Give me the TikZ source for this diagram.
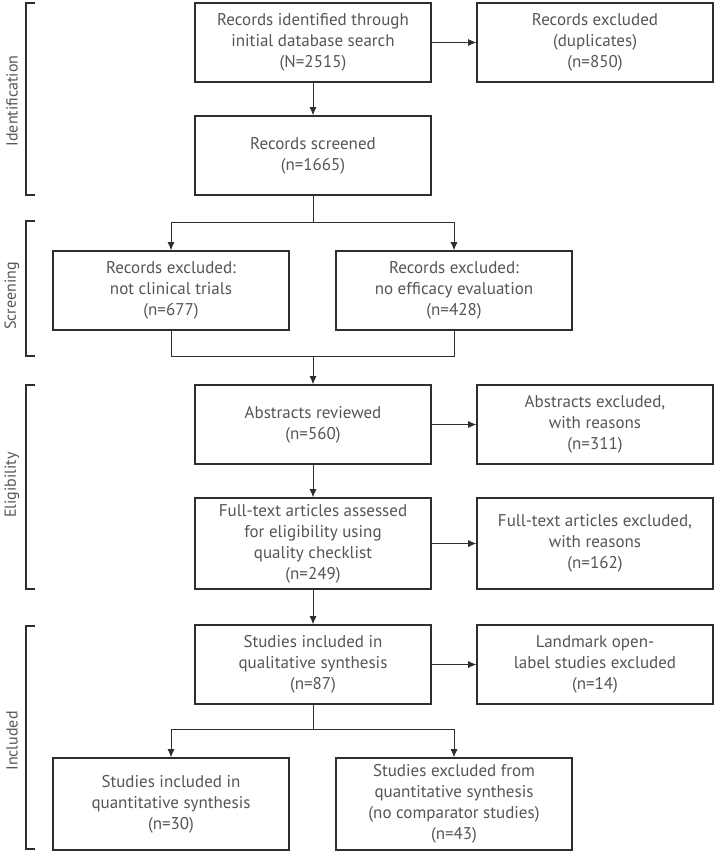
\documentclass[tikz,border=0pt]{standalone}
\usepackage{fontspec}
\setmainfont{PT Sans}
\usepackage{tikz}
\usetikzlibrary{arrows.meta}
\definecolor{txtgray}{HTML}{555555}
\definecolor{linegray}{HTML}{2E2E2E}

\begin{document}
\begin{tikzpicture}[x=1pt,y=-1pt,
	box/.style={draw=linegray,line width=1.6pt,minimum width=236pt,minimum height=79pt,
		align=center,text=txtgray,font=\fontsize{17}{21}\selectfont,inner sep=0pt},
	tallbox/.style={box,minimum height=91pt},
	conn/.style={draw=linegray,line width=0.8pt},
	arr/.style={conn,-{Latex[length=8pt,width=7pt]}},
	phase/.style={draw=linegray,line width=1.4pt},
	phaselabel/.style={rotate=90,text=txtgray,font=\fontsize{16}{20}\selectfont}]
	\useasboundingbox (0,0) rectangle (715,853);

	\def\bl{26}
	\def\br{35}

	\node[box] (ident) at (313,42.5) {Records identified through\\initial database search\\(N=2515)};
	\node[box] (dup) at (595,42.5) {Records excluded\\(duplicates)\\(n=850)};
	\node[box] (screen) at (313,155.5) {Records screened\\(n=1665)};
	\node[box] (notclin) at (171,290.5) {Records excluded:\\not clinical trials\\(n=677)};
	\node[box] (noeff) at (454,290.5) {Records excluded:\\no efficacy evaluation\\(n=428)};
	\node[box] (abst) at (313,424.5) {Abstracts reviewed\\(n=560)};
	\node[box] (abstex) at (595,424.5) {Abstracts excluded,\\with reasons\\(n=311)};
	\node[tallbox] (full) at (313,543.5) {Full-text articles assessed\\for eligibility using\\quality checklist\\(n=249)};
	\node[tallbox] (fullex) at (595,543.5) {Full-text articles excluded,\\with reasons\\(n=162)};
	\node[box] (qual) at (313,664.5) {Studies included in\\qualitative synthesis\\(n=87)};
	\node[box] (land) at (595,664.5) {Landmark open-\\label studies excluded\\(n=14)};
	\node[tallbox,minimum height=92pt] (quant) at (171,804) {Studies included in\\quantitative synthesis\\(n=30)};
	\node[tallbox,minimum height=92pt] (excl) at (454,804) {Studies excluded from\\quantitative synthesis\\(no comparator studies)\\(n=43)};

	\coordinate (split1) at (313,222);
	\coordinate (merge1) at (313,356);
	\coordinate (split2) at (313,729);

	\draw[arr] (ident) -- (dup);
	\draw[arr] (ident) -- (screen);
	\draw[conn] (screen.south) -- (split1);
	\draw[arr] (split1) -| (notclin.north);
	\draw[arr] (split1) -| (noeff.north);
	\draw[conn] (notclin.south) |- (merge1);
	\draw[conn] (noeff.south) |- (merge1);
	\draw[arr] (merge1) -- (abst.north);
	\draw[arr] (abst) -- (abstex);
	\draw[arr] (abst) -- (full);
	\draw[arr] (full) -- (fullex);
	\draw[arr] (full) -- (qual);
	\draw[arr] (qual) -- (land);
	\draw[conn] (qual.south) -- (split2);
	\draw[arr] (split2) -| (quant.north);
	\draw[arr] (split2) -| (excl.north);

	\draw[phase] (\br,3) -- (\bl,3) -- (\bl,195) -- (\br,195);
	\draw (12,101) node[phaselabel] {Identification};
	\draw[phase] (\br,221) -- (\bl,221) -- (\bl,356) -- (\br,356);
	\draw (12,296) node[phaselabel] {Screening};
	\draw[phase] (\br,385) -- (\bl,385) -- (\bl,589) -- (\br,589);
	\draw (12,485) node[phaselabel] {Eligibility};
	\draw[phase] (\br,626) -- (\bl,626) -- (\bl,849) -- (\br,849);
	\draw (12,741) node[phaselabel] {Included};
\end{tikzpicture}
\end{document}
